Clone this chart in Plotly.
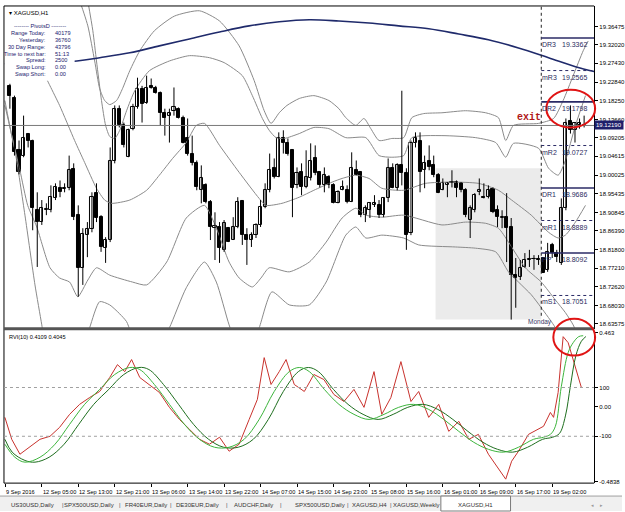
import plotly.graph_objects as go

# ---------------- data ----------------
bars = list(range(1, 128))
opens = [19.219, 19.190, 19.063, 19.048, 19.100, 19.085, 18.914, 18.885, 18.914, 18.914,
         18.943, 18.968, 18.965, 18.968, 19.014, 18.902, 18.773, 18.853, 18.868, 18.956,
         18.897, 18.821, 18.841, 19.036, 19.163, 19.122, 19.044, 19.114, 19.166, 19.212,
         19.178, 19.219, 19.215, 19.202, 19.153, 19.146, 19.158, 19.163, 19.141, 19.092,
         19.053, 19.031, 18.963, 18.975, 18.934, 18.870, 18.873, 18.817, 18.870, 18.841,
         18.873, 18.936, 18.853, 18.841, 18.853, 18.878, 18.922, 18.963, 19.017, 18.995,
         19.090, 19.080, 19.061, 18.975, 19.007, 18.970, 18.992, 19.041, 19.007, 18.975,
         18.995, 18.975, 18.931, 18.963, 18.963, 18.934, 19.012, 19.007, 18.902, 18.914,
         18.926, 18.926, 18.902, 18.943, 19.017, 18.968, 19.024, 19.005, 18.858, 19.078,
         19.085, 19.012, 19.034, 19.024, 19.000, 18.963, 18.975, 18.980, 18.983, 18.980,
         18.963, 18.890, 18.914, 18.958, 18.946, 18.946, 18.965, 18.914, 18.895, 18.897,
         18.873, 18.755, 18.751, 18.775, 18.792, 18.794, 18.794, 18.797, 18.768, 18.829,
         18.809, 18.785, 18.919, 19.134, 19.110, 19.122, 19.124]
highs = [19.224, 19.195, 19.085, 19.146, 19.102, 19.087, 18.958, 18.939, 18.931, 18.975,
         18.980, 18.987, 18.980, 19.048, 19.029, 18.926, 18.870, 18.885, 18.958, 18.980,
         18.902, 18.848, 19.068, 19.171, 19.171, 19.129, 19.114, 19.175, 19.239, 19.219,
         19.244, 19.237, 19.219, 19.205, 19.163, 19.163, 19.215, 19.166, 19.146, 19.139,
         19.097, 19.036, 19.024, 18.980, 18.939, 18.909, 18.885, 18.890, 18.873, 18.897,
         18.946, 18.939, 18.870, 18.860, 18.882, 18.939, 18.980, 19.053, 19.041, 19.105,
         19.110, 19.090, 19.061, 19.019, 19.029, 19.061, 19.078, 19.073, 19.007, 19.019,
         19.000, 18.980, 18.963, 18.987, 18.975, 19.056, 19.036, 19.007, 18.926, 18.934,
         18.951, 18.939, 18.946, 19.041, 19.029, 19.029, 19.207, 19.017, 19.085, 19.105,
         19.105, 19.048, 19.073, 19.048, 19.005, 18.992, 18.983, 19.012, 18.987, 18.983,
         18.968, 18.926, 18.956, 18.992, 18.980, 18.975, 18.970, 18.926, 18.914, 18.956,
         18.895, 18.797, 18.792, 18.809, 18.817, 18.804, 18.804, 18.799, 18.834, 18.834,
         18.817, 18.943, 19.139, 19.171, 19.129, 19.139, 19.146]
lows = [19.163, 19.048, 19.002, 19.044, 19.068, 18.865, 18.775, 18.878, 18.902, 18.909,
        18.939, 18.946, 18.958, 18.963, 18.890, 18.702, 18.731, 18.799, 18.860, 18.885,
        18.812, 18.785, 18.836, 19.029, 19.117, 19.068, 19.044, 19.110, 19.163, 19.129,
        19.175, 19.212, 19.200, 19.122, 19.097, 19.080, 19.146, 19.139, 19.078, 19.048,
        19.024, 18.963, 18.931, 18.931, 18.841, 18.792, 18.785, 18.812, 18.836, 18.841,
        18.870, 18.829, 18.780, 18.824, 18.846, 18.873, 18.919, 18.958, 18.992, 18.995,
        19.053, 19.048, 18.897, 18.968, 18.951, 18.968, 18.987, 19.000, 18.970, 18.958,
        18.968, 18.931, 18.931, 18.963, 18.931, 18.934, 19.000, 18.897, 18.885, 18.895,
        18.922, 18.895, 18.897, 18.934, 18.968, 18.963, 18.975, 18.817, 18.853, 19.068,
        18.958, 18.968, 19.012, 18.995, 18.956, 18.963, 18.946, 18.970, 18.946, 18.958,
        18.897, 18.846, 18.909, 18.951, 18.943, 18.943, 18.907, 18.873, 18.870, 18.787,
        18.646, 18.675, 18.743, 18.773, 18.775, 18.768, 18.780, 18.760, 18.763, 18.797,
        18.787, 18.780, 18.914, 19.102, 19.080, 19.114, 19.117]
closes = [19.195, 19.056, 19.007, 19.092, 19.085, 18.919, 18.885, 18.919, 18.917, 18.946,
          18.970, 18.958, 18.968, 19.012, 18.897, 18.773, 18.856, 18.868, 18.946, 18.895,
          18.824, 18.841, 19.034, 19.163, 19.122, 19.073, 19.110, 19.166, 19.212, 19.175,
          19.215, 19.215, 19.202, 19.153, 19.141, 19.153, 19.166, 19.141, 19.080, 19.053,
          19.029, 18.970, 18.992, 18.934, 18.873, 18.875, 18.821, 18.882, 18.836, 18.873,
          18.934, 18.853, 18.841, 18.853, 18.878, 18.922, 18.963, 19.012, 18.995, 19.092,
          19.078, 19.053, 18.968, 19.005, 18.970, 18.995, 19.036, 19.005, 18.975, 19.000,
          18.975, 18.931, 18.958, 18.970, 18.934, 19.017, 19.000, 18.902, 18.919, 18.931,
          18.931, 18.902, 18.943, 19.017, 18.968, 19.024, 19.005, 18.853, 19.078, 19.090,
          19.007, 19.031, 19.019, 19.000, 18.956, 18.980, 18.980, 18.983, 18.968, 18.963,
          18.902, 18.919, 18.951, 18.963, 18.943, 18.963, 18.909, 18.897, 18.897, 18.870,
          18.755, 18.748, 18.773, 18.792, 18.794, 18.795, 18.792, 18.760, 18.812, 18.809,
          18.799, 18.919, 19.127, 19.110, 19.127, 19.129, 19.1219]

# band lines (bar index, price)
u2_x = [7.6, 14.1, 16.3, 18.1, 19.6, 20.7, 21.8, 22.9, 24.4, 25.7, 27.3, 29.5, 32.7, 37.1, 42.6, 47.0, 51.3, 54.6, 56.8, 58.3, 60.1, 61.8, 64.5, 67.7, 71.0, 73.2, 74.7, 76.9, 78.7, 80.2, 82.0, 84.8, 87.4, 89.2, 91.8, 95.8, 101.0, 105.4, 108.2, 109.8, 111.5, 117.0, 120.3, 122.4, 124.6, 126.8, 127.9]
u2_y = [19.574, 19.476, 19.427, 19.366, 19.280, 19.212, 19.183, 19.173, 19.183, 19.212, 19.256, 19.305, 19.354, 19.390, 19.403, 19.378, 19.317, 19.232, 19.158, 19.127, 19.153, 19.171, 19.188, 19.195, 19.183, 19.163, 19.141, 19.122, 19.139, 19.114, 19.085, 19.090, 19.092, 19.141, 19.151, 19.153, 19.158, 19.153, 19.141, 19.085, 19.122, 19.127, 19.139, 19.183, 19.244, 19.305, 19.329]
u1_x = [18.1, 19.2, 20.0, 21.1, 22.0, 22.9, 24.0, 25.1, 26.6, 28.4, 31.6, 36.0, 40.4, 44.8, 48.0, 52.0, 54.2, 56.4, 57.9, 59.4, 61.2, 64.5, 67.7, 71.0, 74.7, 79.1, 82.0, 84.8, 87.4, 89.2, 95.8, 103.2, 107.6, 109.8, 111.5, 117.0, 119.2, 121.3, 122.9, 125.1, 127.3]
u1_y = [19.427, 19.354, 19.280, 19.183, 19.122, 19.095, 19.090, 19.110, 19.158, 19.207, 19.256, 19.280, 19.293, 19.288, 19.276, 19.244, 19.195, 19.139, 19.110, 19.092, 19.090, 19.102, 19.117, 19.114, 19.092, 19.092, 19.048, 19.044, 19.048, 19.092, 19.097, 19.092, 19.080, 19.044, 19.078, 19.066, 19.017, 19.000, 19.036, 19.122, 19.195]
mid_x = [8.7, 9.8, 11.9, 15.2, 17.4, 20.0, 21.8, 23.3, 27.3, 31.0, 33.8, 36.7, 39.7, 41.9, 43.7, 47.0, 51.3, 55.7, 57.2, 60.7, 64.5, 67.7, 71.7, 73.9, 76.9, 79.8, 82.6, 87.4, 92.2, 97.9, 103.8, 108.2, 111.1, 115.4, 119.2, 121.3, 122.9, 125.1, 127.3]
mid_y = [19.244, 19.219, 19.171, 19.085, 19.031, 18.968, 18.939, 18.931, 18.939, 18.963, 19.000, 19.041, 19.080, 19.122, 19.127, 19.073, 19.007, 18.943, 18.926, 18.931, 18.946, 18.963, 18.983, 18.992, 19.000, 18.992, 18.968, 18.963, 18.980, 18.983, 18.980, 18.963, 18.939, 18.902, 18.860, 18.846, 18.853, 18.885, 18.926]
l1_x = [-0.1, 1.4, 3.2, 4.9, 6.9, 9.8, 11.9, 14.1, 15.9, 18.1, 20.0, 22.9, 27.9, 31.0, 35.4, 39.7, 43.7, 46.3, 49.1, 51.3, 54.2, 56.1, 57.9, 62.3, 66.7, 70.4, 73.9, 76.9, 79.1, 82.6, 87.4, 95.8, 101.0, 105.4, 108.2, 110.4, 114.1, 117.6, 120.7, 122.9, 124.6, 126.4]
l1_y = [19.183, 19.097, 19.012, 18.926, 18.873, 18.773, 18.748, 18.738, 18.702, 18.743, 18.773, 18.755, 18.738, 18.731, 18.787, 18.895, 18.926, 18.870, 18.787, 18.748, 18.726, 18.748, 18.773, 18.763, 18.787, 18.836, 18.895, 18.919, 18.902, 18.897, 18.902, 18.878, 18.885, 18.882, 18.870, 18.836, 18.773, 18.738, 18.694, 18.663, 18.633, 18.585]
l2_x = [-0.1, 2.1, 4.3, 6.5, 8.0, 9.3, 16.3, 18.5, 20.7, 22.9, 25.1, 26.6, 28.8, 33.8, 36.0, 39.7, 43.7, 46.3, 49.1, 51.3, 54.0, 55.7, 58.5, 62.3, 66.7, 70.4, 74.7, 76.9, 79.1, 82.6, 87.4, 90.7, 98.8, 103.2, 107.6, 110.4, 112.6, 115.4, 117.6, 120.7, 122.9]
l2_y = [19.171, 19.061, 18.902, 18.731, 18.633, 18.548, 18.548, 18.626, 18.690, 18.682, 18.660, 18.641, 18.585, 18.585, 18.626, 18.724, 18.787, 18.738, 18.633, 18.572, 18.585, 18.626, 18.714, 18.682, 18.682, 18.738, 18.853, 18.873, 18.846, 18.853, 18.846, 18.829, 18.824, 18.821, 18.812, 18.763, 18.738, 18.707, 18.675, 18.626, 18.572]
ma_x = [-0.1, 15.7, 20.7, 27.3, 33.8, 40.4, 47.0, 53.5, 60.1, 66.7, 73.2, 79.8, 86.3, 92.9, 99.5, 106.0, 112.6, 119.2, 125.1, 129.2]
ma_y = [19.273, 19.280, 19.288, 19.300, 19.317, 19.334, 19.351, 19.366, 19.376, 19.381, 19.378, 19.373, 19.366, 19.359, 19.346, 19.332, 19.312, 19.288, 19.266, 19.254]

# pivot levels
piv_names = ["DR3", "mR3", "DR2", "mR2", "DR1", "mR1", "PP", "mS1"]
piv_vals = [19.3362, 19.2565, 19.1798, 19.0727, 18.9686, 18.8889, 18.8092, 18.7051]
current_price = 19.1219

price_ticks = [19.36475, 19.32020, 19.27430, 19.22840, 19.18250, 19.13660, 19.09205, 19.04615,
               19.00025, 18.95435, 18.90845, 18.86390, 18.81800, 18.77210, 18.72620, 18.68030, 18.63575]

# RVI panel
g1_x = [-0.1, 2.1, 4.3, 7.6, 10.9, 14.1, 17.4, 20.7, 24.0, 27.3, 29.5, 32.7, 36.0, 39.3, 42.6, 45.9, 49.1, 52.4, 55.7, 59.0, 62.3, 64.5, 66.7, 70.0, 73.2, 76.5, 79.8, 83.1, 86.3, 89.6, 92.9, 96.2, 99.5, 102.8, 106.0, 109.3, 112.6, 115.9, 118.1, 119.6, 120.7, 122.0, 123.5, 124.6, 125.8, 126.8]
g1_y = [-0.238, -0.320, -0.351, -0.320, -0.238, -0.113, 0.013, 0.107, 0.201, 0.245, 0.232, 0.138, 0.013, -0.113, -0.207, -0.257, -0.257, -0.207, -0.082, 0.094, 0.219, 0.245, 0.219, 0.107, 0.013, -0.050, -0.082, -0.050, -0.006, 0.013, -0.019, -0.082, -0.157, -0.226, -0.270, -0.288, -0.257, -0.207, -0.194, -0.176, -0.125, 0.125, 0.339, 0.401, 0.439, 0.445]
g2_x = [-0.1, 1.5, 4.3, 6.5, 9.6, 12.9, 16.1, 19.4, 22.7, 26.0, 29.3, 31.5, 34.7, 38.0, 41.3, 44.6, 47.9, 51.1, 54.4, 57.7, 61.0, 64.3, 66.5, 68.7, 72.0, 75.2, 78.5, 81.8, 85.1, 88.3, 91.6, 94.9, 98.2, 101.5, 104.8, 108.0, 111.3, 114.6, 117.9, 120.1, 121.6, 122.9, 124.0, 125.2, 126.4, 127.4]
g2_y = [-0.207, -0.288, -0.340, -0.351, -0.320, -0.238, -0.113, 0.013, 0.107, 0.201, 0.245, 0.232, 0.138, 0.013, -0.113, -0.207, -0.257, -0.257, -0.207, -0.082, 0.094, 0.219, 0.245, 0.219, 0.107, 0.013, -0.050, -0.082, -0.050, -0.006, 0.013, -0.019, -0.082, -0.157, -0.226, -0.270, -0.288, -0.257, -0.207, -0.194, -0.170, -0.060, 0.130, 0.320, 0.410, 0.440]
red_x = [-0.1, 1.4, 3.2, 5.4, 7.6, 9.8, 11.9, 14.1, 16.3, 18.5, 20.7, 22.9, 24.6, 26.2, 27.7, 29.5, 31.6, 33.8, 36.0, 38.2, 40.4, 42.6, 44.8, 47.0, 49.1, 51.3, 53.5, 55.3, 56.8, 58.3, 60.1, 61.6, 63.4, 65.6, 67.7, 69.9, 72.1, 74.3, 76.5, 78.7, 80.9, 82.6, 84.6, 86.8, 89.0, 90.7, 92.9, 95.1, 97.3, 99.5, 101.7, 103.8, 106.0, 108.2, 109.8, 111.1, 112.6, 114.8, 117.0, 118.1, 119.6, 120.3, 121.3, 122.4, 123.5, 124.6, 126.4]
red_y = [-0.069, -0.207, -0.301, -0.251, -0.207, -0.188, -0.132, -0.050, 0.013, 0.056, 0.094, 0.182, 0.263, 0.219, 0.295, 0.182, 0.138, 0.088, -0.006, -0.082, -0.144, -0.207, -0.238, -0.194, -0.282, -0.238, -0.082, 0.044, 0.307, 0.138, 0.219, 0.295, 0.138, 0.094, 0.201, 0.169, 0.075, 0.031, 0.107, -0.006, 0.219, -0.050, 0.056, 0.282, 0.031, 0.094, -0.069, 0.013, -0.157, -0.094, -0.207, -0.176, -0.301, -0.395, -0.458, -0.345, -0.282, -0.176, -0.144, -0.125, -0.038, -0.069, 0.088, 0.439, 0.401, 0.295, 0.119]

time_tick_bars = [0, 8, 16, 24, 32, 40, 48, 56, 64, 72, 80, 88, 96, 104, 112, 120]
time_tick_text = ["9 Sep 2016", "12 Sep 05:00", "12 Sep 13:00", "12 Sep 21:00", "13 Sep 06:00",
                  "13 Sep 14:00", "13 Sep 22:00", "14 Sep 07:00", "14 Sep 15:00", "14 Sep 23:00",
                  "15 Sep 08:00", "15 Sep 16:00", "16 Sep 01:00", "16 Sep 09:00", "16 Sep 17:00",
                  "19 Sep 02:00"]

info_labels = ["Range Today:", "Yesterday:", "30 Day Range:", "Time to next bar:", "Spread:", "Swap Long:", "Swap Short:"]
info_values = ["40179", "36760", "43796", "51:13", "2500", "0.00", "0.00"]

tabs = ["US30USD,Daily", "SPX500USD,Daily", "FR40EUR,Daily", "DE30EUR,Daily", "AUDCHF,Daily",
        "SPX500USD,Daily", "XAGUSD,H4", "XAGUSD,Weekly", "XAGUSD,H1"]

# ---------------- layout helpers ----------------
W, H = 625, 512
FONT = "Liberation Sans"
def px(x): return x / W
def py(y): return 1 - y / H

X_RANGE = [-0.3, 129.2]
Y_RANGE = [18.6236, 19.4148]
Y2_RANGE = [-0.4828, 0.4765]
MONDAY = 117.6

fig = go.Figure()

band_style = dict(color="#8a8a8a", width=1, shape="spline", smoothing=0.6)
for bx, by in [(u2_x, u2_y), (u1_x, u1_y), (mid_x, mid_y), (l1_x, l1_y), (l2_x, l2_y)]:
    fig.add_trace(go.Scatter(x=bx, y=by, mode="lines", line=band_style,
                             hoverinfo="skip", showlegend=False, xaxis="x", yaxis="y"))
fig.add_trace(go.Scatter(x=ma_x, y=ma_y, mode="lines",
                         line=dict(color="#1f2a6b", width=1.6, shape="spline"),
                         hoverinfo="skip", showlegend=False, xaxis="x", yaxis="y"))

# candles: wicks + bodies
wick_x, wick_y = [], []
for b, h, l in zip(bars, highs, lows):
    wick_x += [b, b, None]
    wick_y += [l, h, None]
fig.add_trace(go.Scatter(x=wick_x, y=wick_y, mode="lines", line=dict(color="black", width=1),
                         hoverinfo="skip", showlegend=False, xaxis="x", yaxis="y"))
body_base = [min(o, c) for o, c in zip(opens, closes)]
body_len = [max(abs(c - o), 0.0012) for o, c in zip(opens, closes)]
body_fill = ["white" if c >= o else "black" for o, c in zip(opens, closes)]
fig.add_trace(go.Bar(x=bars, y=body_len, base=body_base, width=0.68,
                     marker=dict(color=body_fill, line=dict(color="black", width=1)),
                     hoverinfo="skip", showlegend=False, xaxis="x", yaxis="y"))

fig.add_trace(go.Scatter(x=red_x, y=red_y, mode="lines", line=dict(color="#c8322d", width=1),
                         hoverinfo="skip", showlegend=False, xaxis="x2", yaxis="y2"))
fig.add_trace(go.Scatter(x=g2_x, y=g2_y, mode="lines", line=dict(color="#1e6e1e", width=1, shape="spline"),
                         hoverinfo="skip", showlegend=False, xaxis="x2", yaxis="y2"))
fig.add_trace(go.Scatter(x=g1_x, y=g1_y, mode="lines", line=dict(color="#3cb43c", width=1, shape="spline"),
                         hoverinfo="skip", showlegend=False, xaxis="x2", yaxis="y2"))

shapes = []
annotations = []

# shaded rectangle
shapes.append(dict(type="rect", xref="x", yref="y", x0=94.4, x1=MONDAY, y0=18.646, y1=19.017,
                   fillcolor="#ebebeb", line=dict(width=0), layer="below"))
# current price line
shapes.append(dict(type="line", xref="x", yref="y", x0=X_RANGE[0], x1=X_RANGE[1],
                   y0=current_price, y1=current_price, line=dict(color="#7a7a7a", width=1)))
# Monday separator
shapes.append(dict(type="line", xref="x", yref="paper", x0=MONDAY, x1=MONDAY, y0=py(316), y1=py(5),
                   line=dict(color="#222222", width=1, dash="dot")))
# pivot lines and labels
for name, val in zip(piv_names, piv_vals):
    solid = not name.startswith("m")
    shapes.append(dict(type="line", xref="x", yref="y", x0=MONDAY, x1=X_RANGE[1], y0=val, y1=val,
                       line=dict(color="#2b2b66", width=1.6 if solid else 1,
                                 dash="solid" if solid else "dot")))
    annotations.append(dict(x=px(543), xref="paper", y=val, yref="y", text=name, showarrow=False,
                            xanchor="left", yanchor="top", yshift=-1,
                            font=dict(family=FONT, size=7, color="#2b2b5e")))
    annotations.append(dict(x=px(563), xref="paper", y=val, yref="y", text=f"{val:.4f}", showarrow=False,
                            xanchor="left", yanchor="top", yshift=-1,
                            font=dict(family=FONT, size=7, color="#2b2b5e")))

# info box background (covers lines)
shapes.append(dict(type="rect", xref="paper", yref="paper", x0=px(5), x1=px(75), y0=py(80), y1=py(6),
                   fillcolor="white", line=dict(width=0), layer="above"))

# frame
frame = dict(color="#000000", width=1)
shapes.append(dict(type="line", xref="paper", yref="paper", x0=px(4), x1=px(597), y0=py(5), y1=py(5), line=frame))
shapes.append(dict(type="line", xref="paper", yref="paper", x0=px(4), x1=px(4), y0=py(484), y1=py(5), line=frame))
shapes.append(dict(type="line", xref="paper", yref="paper", x0=px(4), x1=px(597), y0=py(484), y1=py(484), line=frame))
shapes.append(dict(type="rect", xref="paper", yref="paper", x0=px(4), x1=px(597), y0=py(330.5), y1=py(327.5),
                   fillcolor="#555555", line=dict(width=0)))
# RVI levels
for lv in [0.119, -0.188]:
    shapes.append(dict(type="line", xref="x2", yref="y2", x0=X_RANGE[0], x1=X_RANGE[1], y0=lv, y1=lv,
                       line=dict(color="#a0a0a0", width=1, dash="dot")))

# red ellipses
shapes.append(dict(type="circle", xref="paper", yref="paper", x0=px(549), x1=px(598), y0=py(127), y1=py(89),
                   line=dict(color="#e01414", width=2)))
shapes.append(dict(type="circle", xref="paper", yref="paper", x0=px(556), x1=px(598), y0=py(356), y1=py(319),
                   line=dict(color="#e01414", width=2)))

# tab bar
shapes.append(dict(type="rect", xref="paper", yref="paper", x0=0, x1=1, y0=0, y1=py(497),
                   fillcolor="#f0f0f0", line=dict(width=0)))
shapes.append(dict(type="line", xref="paper", yref="paper", x0=0, x1=1, y0=py(497), y1=py(497),
                   line=dict(color="#a0a0a0", width=1)))
shapes.append(dict(type="rect", xref="paper", yref="paper", x0=px(443), x1=px(513), y0=py(512), y1=py(497),
                   fillcolor="white", line=dict(color="#7a7a7a", width=1)))

def ann(x, y, text, size=6, color="#000000", xanchor="left", yanchor="middle", family=FONT, **kw):
    d = dict(x=px(x), y=py(y), xref="paper", yref="paper", text=text, showarrow=False,
             xanchor=xanchor, yanchor=yanchor, font=dict(family=family, size=size, color=color))
    d.update(kw)
    annotations.append(d)

# info box text
ann(7, 12, "▾ XAGUSD,H1", size=6, color="#000000")
ann(40, 25, "-------- PivotsD --------", size=5.6, color="#1a1a6e", xanchor="center")
for i, (lab, val) in enumerate(zip(info_labels, info_values)):
    yy = 32.5 + i * 6.8
    ann(48, yy, lab, size=5.6, color="#1a1a6e", xanchor="right")
    ann(53, yy, val, size=5.6, color="#1a1a6e")

# exit text
ann(532, 117, "<b>exit</b>", size=10, color="#b01818", xanchor="center", family="Liberation Mono")
# Monday
ann(543, 322, "Monday", size=6.5, color="#3a3a66", xanchor="center")
# RVI title
ann(7, 337, "RVI(10) 0.4109 0.4045", size=5.6, color="#000000")

# current price tag
annotations.append(dict(x=px(597), xref="paper", y=current_price, yref="y", text="19.12190",
                        showarrow=False, xanchor="left", yanchor="middle", bgcolor="#1f1f6b",
                        borderpad=1, font=dict(family=FONT, size=6, color="white")))

# time labels
for b, t in zip(time_tick_bars, time_tick_text):
    annotations.append(dict(x=b, xref="x2", y=py(492.5), yref="paper", text=t, showarrow=False,
                            xanchor="left", xshift=-1, yanchor="middle",
                            font=dict(family=FONT, size=5.6, color="#000000")))

# tabs
tab_centers = [33, 89, 147, 198, 255, 322, 371, 419, 478]
sep_x = [63, 121, 172, 228, 282, 350, 393]
for cx, t in zip(tab_centers, tabs):
    ann(cx, 506, t, size=6, color="#333333", xanchor="center")
for sx in sep_x:
    ann(sx, 506, "|", size=6, color="#555555", xanchor="center")
ann(595, 506, "◂", size=5, color="#999999", xanchor="center")
ann(604, 506, "▸", size=5, color="#999999", xanchor="center")

axis_common = dict(showgrid=False, zeroline=False, fixedrange=True)
fig.update_layout(
    width=W, height=H, margin=dict(l=0, r=0, t=0, b=0),
    paper_bgcolor="white", plot_bgcolor="white", showlegend=False, bargap=0,
    font=dict(family=FONT, size=6, color="#000000"),
    xaxis=dict(domain=[px(4), px(597)], range=X_RANGE, anchor="y", showticklabels=False, **axis_common),
    yaxis=dict(domain=[py(329), py(5)], range=Y_RANGE, side="right", anchor="x",
               tickvals=price_ticks, ticktext=[f"{v:.5f}" for v in price_ticks],
               ticks="outside", ticklen=3, tickcolor="#000000", tickfont=dict(size=6),
               showline=True, linecolor="#000000", linewidth=1, **axis_common),
    xaxis2=dict(domain=[px(4), px(597)], range=X_RANGE, anchor="y2", showticklabels=False,
                tickvals=time_tick_bars, ticks="outside", ticklen=3, tickcolor="#000000", **axis_common),
    yaxis2=dict(domain=[py(484), py(331)], range=Y2_RANGE, side="right", anchor="x2",
                tickvals=[0.463, 0.119, 0.0, -0.188, -0.472],
                ticktext=["0.463", "100", "0.00", "-100", "-0.4838"],
                ticks="outside", ticklen=3, tickcolor="#000000", tickfont=dict(size=6),
                showline=True, linecolor="#000000", linewidth=1, **axis_common),
    shapes=shapes, annotations=annotations,
)

fig.write_html("out.html")
